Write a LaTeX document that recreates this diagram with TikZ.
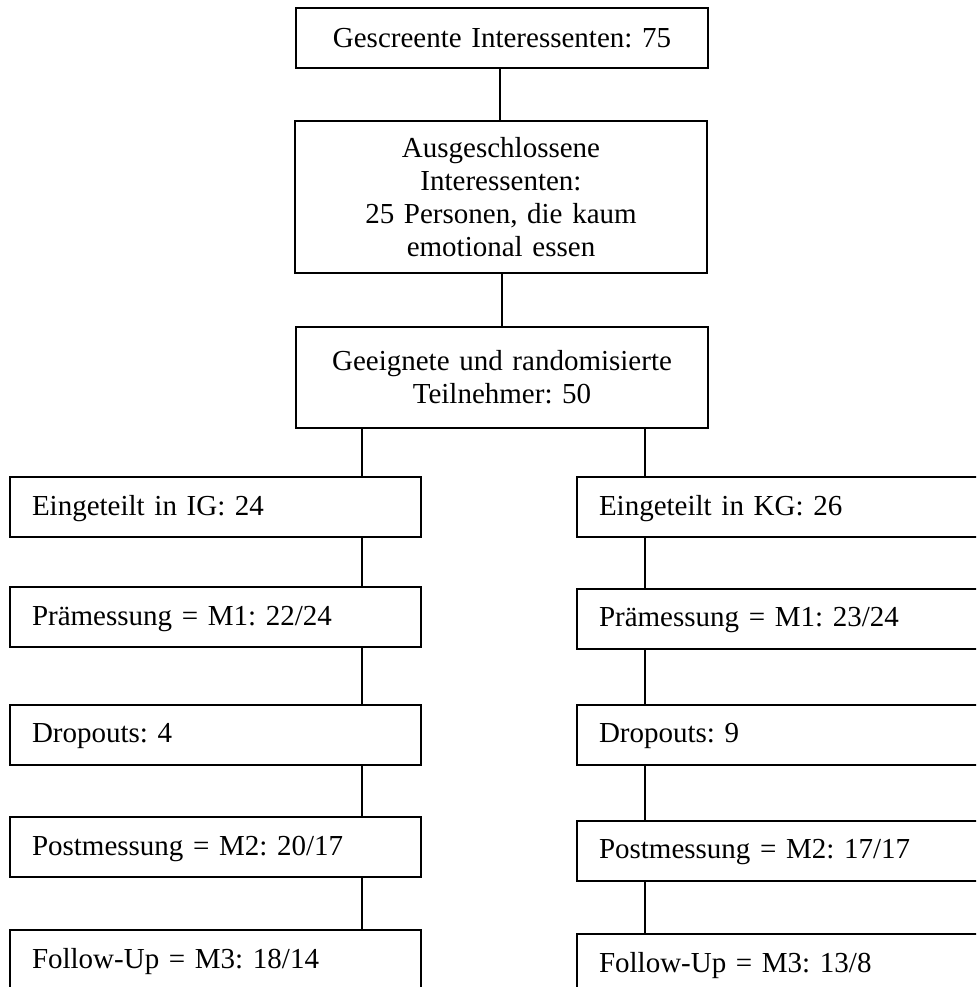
\documentclass[tikz,border=0pt]{standalone}
\usepackage{fontspec}
\setmainfont{Liberation Serif}
\frenchspacing

\tikzset{
    midbox/.style={draw, line width=1.5pt, inner xsep=16.5pt, text width=276pt, align=center,
        font={\fontsize{21.75}{24.75}\selectfont}},
    colbox/.style={draw, line width=1.5pt, inner xsep=16.5pt, text width=275.25pt, align=left,
        minimum height=45pt, text depth=2pt, font={\fontsize{21.75}{24.75}\selectfont}},
    link/.style={line width=1.5pt}
}

\begin{document}
\begin{tikzpicture}[x=0.75pt, y=-0.75pt]

    \path [use as bounding box] (0,0) rectangle (976,987);
    \clip (0,0) rectangle (976,987);

    \node [midbox, minimum height=45pt] (screen) at (502,38) {Gescreente Interessenten: 75};
    \node [midbox, minimum height=114pt] (excl) at (501,197) {Ausgeschlossene\\Interessenten:\\25 Personen, die kaum\\emotional essen};
    \node [midbox, minimum height=75.75pt] (rand) at (502,377.5) {Geeignete und randomisierte\\Teilnehmer: 50};

    \node [colbox] (ig) at (215.5,507) {Eingeteilt in IG: 24};
    \node [colbox] (igpre) at (215.5,617) {Prämessung = M1: 22/24};
    \node [colbox] (igdrop) at (215.5,734.5) {Dropouts: 4};
    \node [colbox] (igpost) at (215.5,847) {Postmessung = M2: 20/17};
    \node [colbox] (igfu) at (215.5,960) {Follow-Up = M3: 18/14};

    \node [colbox] (kg) at (782.5,507) {Eingeteilt in KG: 26};
    \node [colbox] (kgpre) at (782.5,618.5) {Prämessung = M1: 23/24};
    \node [colbox] (kgdrop) at (782.5,734.5) {Dropouts: 9};
    \node [colbox] (kgpost) at (782.5,850.5) {Postmessung = M2: 17/17};
    \node [colbox] (kgfu) at (782.5,964) {Follow-Up = M3: 13/8};

    \coordinate (lx) at (362,0);
    \coordinate (rx) at (645,0);

    \draw [link] (screen.south -| 500,0) -- (excl.north -| 500,0);
    \draw [link] (excl.south -| 502,0) -- (rand.north -| 502,0);

    \draw [link] (rand.south -| lx) -- (ig.north -| lx);
    \draw [link] (rand.south -| rx) -- (kg.north -| rx);

    \foreach \a/\b in {ig/igpre, igpre/igdrop, igdrop/igpost, igpost/igfu}
        \draw [link] (\a.south -| lx) -- (\b.north -| lx);
    \foreach \a/\b in {kg/kgpre, kgpre/kgdrop, kgdrop/kgpost, kgpost/kgfu}
        \draw [link] (\a.south -| rx) -- (\b.north -| rx);

\end{tikzpicture}
\end{document}
